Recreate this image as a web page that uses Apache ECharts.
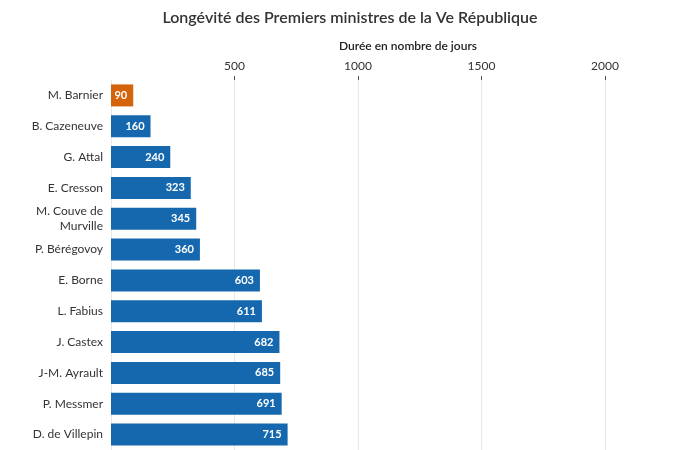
<!DOCTYPE html>
<html><head><meta charset="utf-8">
<script src="https://cdn.jsdelivr.net/npm/echarts@6/dist/echarts.min.js"></script>
<style>html,body{margin:0;padding:0;background:#fff}#c{width:700px;height:450px}</style>
</head><body><div id="c"></div>
<script>
const categories = ["M. Barnier","B. Cazeneuve","G. Attal","E. Cresson","M. Couve de\nMurville","P. Bérégovoy","E. Borne","L. Fabius","J. Castex","J-M. Ayrault","P. Messmer","D. de Villepin"];
const values = [90,160,240,323,345,360,603,611,682,685,691,715];
const highlight = "M. Barnier";
const chart = echarts.init(document.getElementById('c'));
chart.setOption({
  animation:false,
  title:{text:"Longévité des Premiers ministres de la Ve République",left:'center',top:5,
    textStyle:{fontFamily:'Lato',fontSize:16,fontWeight:600,color:'#333'}},
  grid:{left:111,right:95,top:80,bottom:-2},
  xAxis:{type:'value',position:'top',min:0,max:2000,interval:500,
    name:"Durée en nombre de jours",nameLocation:'middle',nameGap:28,
    nameTextStyle:{fontFamily:'Lato',fontSize:12,fontWeight:600,color:'#222',padding:[0,0,0,100]},
    axisLine:{show:false},
    axisTick:{show:true,length:4,lineStyle:{color:'#555'}},
    axisLabel:{showMinLabel:false,showMaxLabel:true,margin:8,fontFamily:'Lato',fontSize:12,color:'#333',
      formatter:v=>String(v)},
    splitLine:{show:true,lineStyle:{color:'#e8e8e8'}}},
  yAxis:{type:'category',data:categories,inverse:true,
    axisLine:{show:true,lineStyle:{color:'#e8e8e8'}},axisTick:{show:false},
    axisLabel:{fontFamily:'Lato',fontSize:12,color:'#333',margin:8,lineHeight:15}},
  series:[{type:'bar',barWidth:22,
    data:values.map((v,i)=>({value:v,itemStyle:{color:categories[i]===highlight?'#D4640C':'#1668AE'}})),
    label:{show:true,position:'insideRight',distance:6,color:'#fff',fontFamily:'Lato',fontSize:11,fontWeight:'bold'}}]
});
</script></body></html>
